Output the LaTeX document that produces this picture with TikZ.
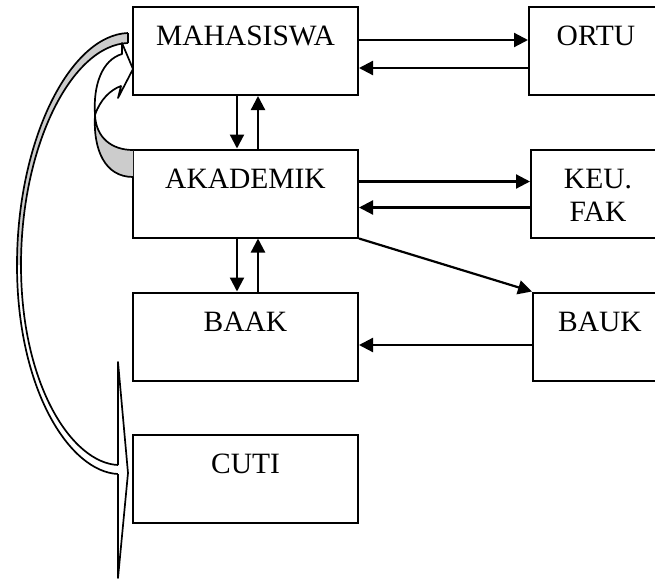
\documentclass[tikz,border=0pt]{standalone}
\usepackage{fontspec}
\setmainfont{Liberation Serif}
\usepackage{tikz}
\usetikzlibrary{arrows.meta}

\newcommand\bxs{\rule[-2.75pt]{0pt}{16.5pt}}

\begin{document}
\begin{tikzpicture}[
  >={Triangle[length=7pt,width=7pt]}, x=0.5pt, y=-0.5pt,
  box/.style={draw, line width=1pt, minimum width=112.5pt, minimum height=44pt,
              inner sep=0pt, align=center, font=\fontsize{14.75}{16.5}\selectfont},
  sbox/.style={box, minimum width=67pt},
  conn/.style={->, line width=1.1pt},
  band/.style={line width=0.85pt, line join=round},
  back/.style={fill=black!20}
]
\useasboundingbox (0,0) rectangle (655,579);

\def\xl{245.5}
\node[box](mhs)  at (\xl,51)    {\bxs MAHASISWA\\\bxs};
\node[box](akd)  at (\xl,193.5) {\bxs AKADEMIK\\\bxs};
\node[box](baak) at (\xl,336.5) {\bxs BAAK\\\bxs};
\node[box](cuti) at (\xl,478.5) {\bxs CUTI\\\bxs};
\node[sbox](ortu) at (596,51)    {\bxs ORTU\\\bxs};
\node[sbox](keu)  at (598,193.5) {\bxs KEU.\\\bxs FAK};
\node[sbox](bauk) at (600,336.5) {\bxs BAUK\\\bxs};

\draw[conn] ([yshift=5.5pt]mhs.east) -- ([yshift=5.5pt]ortu.west);
\draw[conn] ([yshift=-8.5pt]ortu.west) -- ([yshift=-8.5pt]mhs.east);
\draw[conn] ([yshift=6pt]akd.east) -- ([yshift=6pt]keu.west);
\draw[conn] ([yshift=-7pt]keu.west) -- ([yshift=-7pt]akd.east);
\draw[conn] (akd.south east) -- (bauk.north west);
\draw[conn] ([yshift=-4.25pt]bauk.west) -- ([yshift=-4.25pt]baak.east);
\foreach \a/\b in {mhs/akd, akd/baak}{
  \draw[conn] ([xshift=-4.25pt]\a.south) -- ([xshift=-4.25pt]\b.north);
  \draw[conn] ([xshift=6.25pt]\b.north) -- ([xshift=6.25pt]\a.south);
}

% long curved arrow down to CUTI
\fill[back] (128,33) .. controls (70,35) and (17,140) .. (17,265)
  -- (21,265) .. controls (21,145) and (72,45) .. (128,43) -- cycle;
\draw[band] (128,33) .. controls (70,35) and (17,140) .. (17,265)
  .. controls (17,390) and (70,472) .. (118,474);
\draw[band] (128,43) .. controls (72,45) and (21,145) .. (21,265)
  .. controls (21,385) and (72,463) .. (118,465);
\draw[band] (128,33) -- (128,43);
\draw[band, fill=white] (118,465) -- (118,362) -- (128,473) -- (118,578) -- (118,474);

% short curved arrow back to MAHASISWA
\draw[band, back] (133,150) .. controls (112,150) and (96,138) .. (95,115)
  .. controls (93,150) and (105,177) .. (133,177);
\draw[band, fill=white] (95,115) .. controls (93,85) and (102,60) .. (122,54)
  -- (122,43) -- (133,69) -- (118,98) -- (121,86)
  .. controls (110,90) and (100,100) .. (95,115) -- cycle;

\end{tikzpicture}
\end{document}
